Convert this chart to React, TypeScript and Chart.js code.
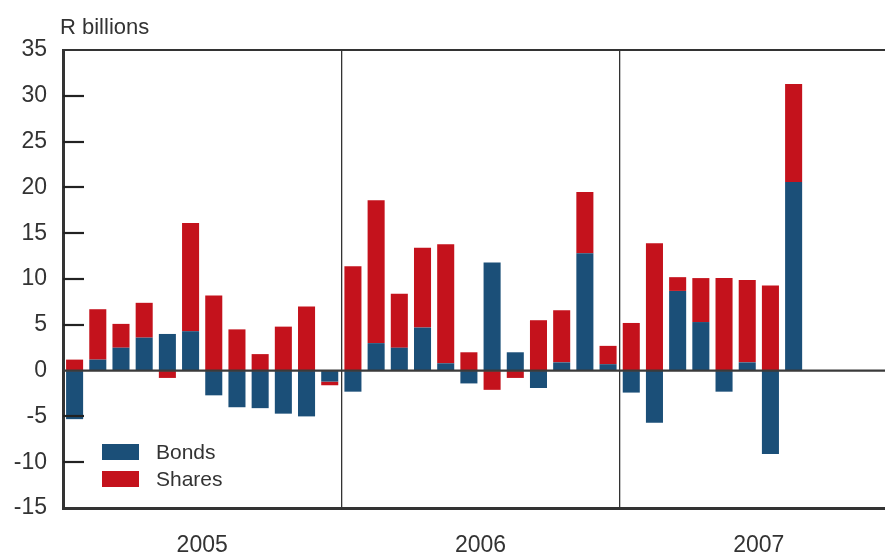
import React, { useEffect, useRef } from 'react';
import { Chart, registerables } from 'chart.js';

Chart.register(...registerables);

const years = ['2005', '2006', '2007'];
const monthNames = ['Jan', 'Feb', 'Mar', 'Apr', 'May', 'Jun', 'Jul', 'Aug', 'Sep', 'Oct', 'Nov', 'Dec'];
const months = years.flatMap((y) => monthNames.map((m) => `${m} ${y}`));

const bonds = [
  -5.3, 1.2, 2.5, 3.6, 4.0, 4.3, -2.7, -4.0, -4.1, -4.7, -5.0, -1.2,
  -2.3, 3.0, 2.5, 4.7, 0.8, -1.4, 11.8, 2.0, -1.9, 0.9, 12.8, 0.7,
  -2.4, -5.7, 8.7, 5.3, -2.3, 0.9, -9.1, 20.6,
];
const shares = [
  1.2, 5.5, 2.6, 3.8, -0.8, 11.8, 8.2, 4.5, 1.8, 4.8, 7.0, -0.4,
  11.4, 15.6, 5.9, 8.7, 13.0, 2.0, -2.1, -0.8, 5.5, 5.7, 6.7, 2.0,
  5.2, 13.9, 1.5, 4.8, 10.1, 9.0, 9.3, 10.7,
];
const yMin = -15;
const yMax = 35;
const yStep = 5;
const unitLabel = 'R billions';

const BLUE = '#1b4f78';
const RED = '#c4121c';
const INK = '#333333';
const FONT = "'Liberation Sans', Arial, Helvetica, sans-serif";

const decor = {
  id: 'decor',
  afterDatasetsDraw(chart: any) {
    const { ctx, chartArea: a, scales } = chart;
    const y = scales.y;
    ctx.save();
    ctx.strokeStyle = INK;
    // top border
    ctx.lineWidth = 2;
    ctx.beginPath();
    ctx.moveTo(a.left, a.top);
    ctx.lineTo(a.right, a.top);
    ctx.stroke();
    // inner tick marks
    ctx.strokeStyle = '#222';
    ctx.lineWidth = 2.2;
    for (let v = yMin + yStep; v < yMax; v += yStep) {
      if (v === 0) continue;
      const py = Math.round(y.getPixelForValue(v));
      ctx.beginPath();
      ctx.moveTo(a.left, py);
      ctx.lineTo(a.left + 21, py);
      ctx.stroke();
    }
    // zero line
    const zy = y.getPixelForValue(0);
    ctx.strokeStyle = '#3a3a3a';
    ctx.lineWidth = 2.3;
    ctx.beginPath();
    ctx.moveTo(a.left, zy);
    ctx.lineTo(a.right, zy);
    ctx.stroke();
    // legend
    ctx.font = `21px ${FONT}`;
    ctx.textBaseline = 'middle';
    ctx.textAlign = 'left';
    chart.data.datasets.forEach((ds: any, i: number) => {
      const top = 444 + i * 27;
      ctx.fillStyle = ds.backgroundColor;
      ctx.fillRect(102, top, 37, 16);
      ctx.fillStyle = INK;
      ctx.fillText(ds.label, 156, top + 9);
    });
    // unit label
    ctx.font = `22px ${FONT}`;
    ctx.textBaseline = 'alphabetic';
    ctx.fillText(unitLabel, 60, 34);
    ctx.restore();
  },
};

export default function App() {
  const ref = useRef<HTMLCanvasElement>(null);
  useEffect(() => {
    if (!ref.current) return;
    const chart = new Chart(ref.current, {
      type: 'bar',
      data: {
        labels: months,
        datasets: [
          { label: 'Bonds', data: bonds, backgroundColor: BLUE, xAxisID: 'x', yAxisID: 'y', categoryPercentage: 1, barPercentage: 0.735 },
          { label: 'Shares', data: shares, backgroundColor: RED, xAxisID: 'x', yAxisID: 'y', categoryPercentage: 1, barPercentage: 0.735 },
        ],
      },
      plugins: [decor],
      options: {
        responsive: false,
        devicePixelRatio: 1,
        animation: false,
        layout: { padding: { top: 50, right: 2, left: 0, bottom: 0 } },
        plugins: { legend: { display: false }, tooltip: { enabled: false } },
        scales: {
          x: { type: 'category', stacked: true, display: false, offset: true },
          x2: {
            type: 'category',
            labels: years,
            position: 'bottom',
            offset: true,
            grid: { offset: true, drawTicks: false, color: INK, lineWidth: 1.3 },
            border: { display: true, width: 3, color: INK },
            ticks: { padding: 24, color: INK, font: { family: FONT, size: 23 } },
            afterFit: (s: any) => { s.height = 44; },
          },
          y: {
            type: 'linear',
            stacked: true,
            min: yMin,
            max: yMax,
            ticks: { stepSize: yStep, padding: 16, color: INK, font: { family: FONT, size: 23 } },
            grid: { drawOnChartArea: false, drawTicks: false },
            border: { display: true, width: 3, color: INK },
            afterFit: (s: any) => { s.width = 63; },
          },
        },
      } as any,
    });
    return () => chart.destroy();
  }, []);
  return (
    <div style={{ position: 'fixed', left: 0, top: 0, width: 885, height: 552, overflow: 'hidden', background: '#fff' }}>
      <canvas ref={ref} width={900} height={552} style={{ display: 'block', width: 900, height: 552 }} />
    </div>
  );
}
